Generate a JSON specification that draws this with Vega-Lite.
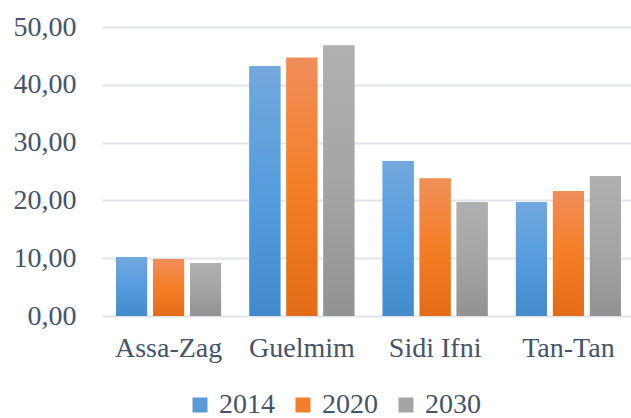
{
  "$schema": "https://vega.github.io/schema/vega-lite/v6.json",
  "autosize": {"type": "none"},
  "padding": {"left": 102, "top": 27, "right": 0, "bottom": 102},
  "width": 533,
  "height": 289,
  "background": "white",
  "data": {"values": [
    {"region": "Assa-Zag", "year": "2014", "value": 10.2},
    {"region": "Assa-Zag", "year": "2020", "value": 9.85},
    {"region": "Assa-Zag", "year": "2030", "value": 9.15},
    {"region": "Guelmim", "year": "2014", "value": 43.2},
    {"region": "Guelmim", "year": "2020", "value": 44.7},
    {"region": "Guelmim", "year": "2030", "value": 46.8},
    {"region": "Sidi Ifni", "year": "2014", "value": 26.8},
    {"region": "Sidi Ifni", "year": "2020", "value": 23.8},
    {"region": "Sidi Ifni", "year": "2030", "value": 19.7},
    {"region": "Tan-Tan", "year": "2014", "value": 19.7},
    {"region": "Tan-Tan", "year": "2020", "value": 21.6},
    {"region": "Tan-Tan", "year": "2030", "value": 24.2}
  ]},
  "encoding": {
    "x": {
      "field": "region", "type": "nominal", "sort": null,
      "scale": {"paddingInner": 0.2125, "paddingOuter": 0.106},
      "axis": {"title": null, "labelAngle": 0, "ticks": false, "domain": false, "labelPadding": 18,
               "labelFont": "Liberation Serif", "labelFontSize": 28, "labelColor": "#44546A"}
    },
    "xOffset": {"field": "year", "type": "nominal", "scale": {"paddingInner": 0.162, "paddingOuter": 0}},
    "y": {
      "field": "value", "type": "quantitative",
      "scale": {"domain": [0, 50], "nice": false},
      "axis": {"title": null, "values": [0, 10, 20, 30, 40, 50], "ticks": false, "domain": false,
               "labelPadding": 26, "labelExpr": "replace(format(datum.value, '.2f'), '.', ',')",
               "labelFont": "Liberation Serif", "labelFontSize": 28, "labelColor": "#44546A",
               "gridColor": "#E1E4E9", "gridWidth": 2}
    }
  },
  "layer": [
    {
      "mark": {"type": "bar"},
      "encoding": {
        "color": {
          "field": "year", "type": "nominal",
          "scale": {"range": ["#5B9BD5", "#F47F2A", "#A5A5A5"]},
          "legend": {"orient": "none", "legendX": 84, "legendY": 364, "direction": "horizontal", "title": null, "symbolType": "square",
                     "symbolSize": 225, "symbolStrokeWidth": 0, "labelFont": "Liberation Serif", "labelFontSize": 28,
                     "labelColor": "#44546A", "labelOffset": 5, "columnPadding": 14, "padding": 0}
        }
      }
    },
    {
      "transform": [{"filter": "datum.year === '2014'"}],
      "mark": {"type": "bar", "fill": {"gradient": "linear", "x1": 0, "y1": 0, "x2": 0, "y2": 1, "stops": [{"offset": 0, "color": "#72A8DD"}, {"offset": 0.5, "color": "#559DDE"}, {"offset": 1, "color": "#438ACB"}]}}
    },
    {
      "transform": [{"filter": "datum.year === '2020'"}],
      "mark": {"type": "bar", "fill": {"gradient": "linear", "x1": 0, "y1": 0, "x2": 0, "y2": 1, "stops": [{"offset": 0, "color": "#F08E5A"}, {"offset": 0.5, "color": "#F47E25"}, {"offset": 1, "color": "#E46B17"}]}}
    },
    {
      "transform": [{"filter": "datum.year === '2030'"}],
      "mark": {"type": "bar", "fill": {"gradient": "linear", "x1": 0, "y1": 0, "x2": 0, "y2": 1, "stops": [{"offset": 0, "color": "#B0B0B0"}, {"offset": 0.5, "color": "#A5A5A5"}, {"offset": 1, "color": "#929292"}]}}
    }
  ],
  "config": {"view": {"stroke": null}}
}
